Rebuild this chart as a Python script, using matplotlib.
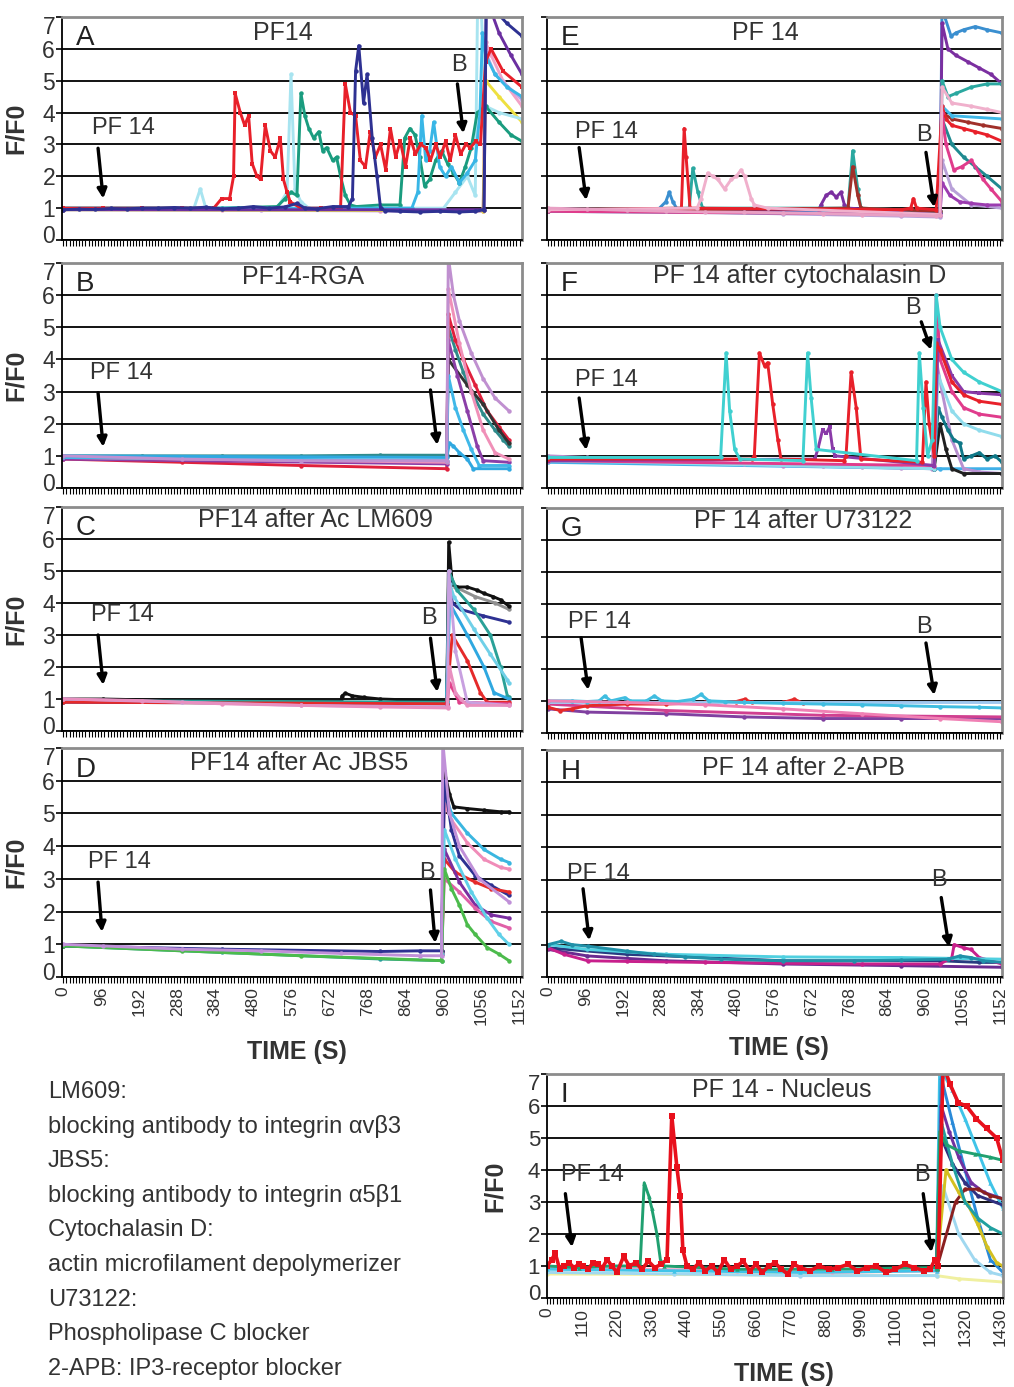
import matplotlib

matplotlib.use("Agg")
import matplotlib.pyplot as plt  # noqa: E402
import matplotlib.transforms as mtransforms  # noqa: E402
from matplotlib import font_manager  # noqa: E402
from matplotlib.ticker import MultipleLocator  # noqa: E402

plt.rcParams["font.family"] = ["Liberation Sans", "DejaVu Sans"]
_names = {f.name for f in font_manager.fontManager.ttflist}
NARROW = "Liberation Sans Narrow" if "Liberation Sans Narrow" in _names else "Liberation Sans"
TXT = "#333333"

# ---------------- data (time s, F/F0) ----------------
# Panel A: PF14
A_NAVY_T = [0, 40, 80, 120, 160, 200, 240, 280, 320, 360, 400, 440, 480, 520, 560, 590, 610, 640, 680, 720,
            730, 738, 746, 758, 767, 780, 792, 801, 812, 850, 900, 950, 1000, 1040, 1062, 1068, 1090, 1120, 1158]
A_NAVY_V = [0.95, 0.97, 0.96, 0.99, 0.98, 1.0, 1.0, 1.02, 1.0, 1.03, 0.98, 1.0, 1.05, 1.0, 1.04, 1.15, 1.0, 0.98,
            1.05, 1.05, 1.3, 5.3, 6.1, 4.3, 5.2, 3.2, 2.0, 1.0, 0.92, 0.9, 0.88, 0.9, 0.88, 0.9, 0.95, 7.8, 7.2,
            6.8, 6.4]
A_RED_T = [0, 100, 200, 300, 380, 400, 420, 430, 434, 447, 458, 468, 477, 489, 498, 510, 523, 535, 548, 556,
           565, 573, 600, 650, 700, 712, 725, 738, 750, 763, 775, 788, 801, 814, 826, 839, 851, 864, 876, 889,
           902, 915, 927, 940, 952, 965, 977, 990, 1003, 1016, 1028, 1041, 1053, 1066, 1080, 1110, 1158]
A_RED_V = [1.0, 1.0, 1.0, 1.0, 1.0, 1.3, 1.3, 2.0, 4.6, 4.0, 3.6, 3.9, 2.4, 2.0, 1.9, 3.6, 2.8, 2.6, 3.2, 1.9,
           1.5, 1.2, 1.0, 1.0, 1.0, 4.9, 4.0, 3.9, 2.5, 2.3, 3.4, 2.6, 3.0, 2.2, 3.5, 2.6, 3.1, 2.3, 3.2, 2.7,
           3.0, 2.9, 2.5, 3.0, 2.6, 3.1, 2.5, 3.3, 2.7, 3.0, 2.9, 3.1, 3.0, 5.6, 6.0, 5.3, 4.8]
A_TEAL_T = [0, 200, 400, 540, 560, 575, 590, 600, 610, 620, 632, 645, 655, 665, 680, 690, 700, 712, 725, 740,
            800, 850, 862, 875, 888, 900, 912, 925, 940, 955, 970, 985, 1000, 1015, 1030, 1045, 1066, 1100,
            1130, 1158]
A_TEAL_V = [1.0, 1.0, 1.0, 1.05, 1.3, 1.5, 1.4, 4.6, 3.9, 3.5, 3.2, 3.4, 2.8, 2.9, 2.5, 2.6, 2.0, 1.4, 1.1,
            1.05, 1.1, 1.1, 3.2, 3.5, 3.3, 2.6, 1.7, 1.9, 2.5, 2.8, 2.4, 2.1, 1.8, 2.3, 2.9, 4.0, 4.2, 3.7, 3.3,
            3.1]
A_SKY_T = [0, 880, 895, 905, 915, 925, 935, 950, 965, 980, 1000, 1020, 1040, 1052, 1058, 1066, 1090, 1120, 1158]
A_SKY_V = [1.0, 1.0, 1.5, 3.9, 2.5, 2.8, 3.7, 2.3, 2.0, 2.3, 1.8, 2.1, 2.5, 4.0, 6.5, 5.8, 5.2, 4.8, 4.5]
A_LCYAN_T = [0, 330, 346, 360, 540, 565, 575, 585, 600, 620, 960, 990, 1020, 1040, 1046, 1054, 1066, 1100, 1158]
A_LCYAN_V = [1.0, 1.0, 1.6, 1.0, 1.0, 1.5, 5.2, 1.6, 1.2, 1.0, 1.0, 1.5, 2.0, 1.4, 7.5, 7.5, 4.2, 4.0, 3.8]
A_PINK_T = [0, 400, 800, 1060, 1066, 1080, 1110, 1158]
A_PINK_V = [0.98, 0.95, 0.92, 0.9, 6.2, 5.8, 5.0, 4.2]
A_LAV_T = [0, 500, 1060, 1066, 1090, 1158]
A_LAV_V = [0.96, 0.93, 0.9, 5.9, 5.2, 4.4]
A_YEL_T = [0, 1060, 1066, 1100, 1158]
A_YEL_V = [0.95, 0.92, 5.0, 4.5, 3.7]
A_PURP_T = [0, 1062, 1068, 1100, 1130, 1158]
A_PURP_V = [0.95, 0.95, 7.6, 6.5, 5.8, 5.2]

# Panel B: PF14-RGA
B_TEAL_T = [0, 200, 400, 600, 800, 968, 972, 990, 1010, 1030, 1060, 1090, 1110, 1125]
B_TEAL_V = [1.0, 1.0, 1.0, 1.0, 1.02, 1.02, 5.0, 4.3, 3.6, 3.0, 2.3, 1.8, 1.5, 1.3]
B_RED_T = [0, 300, 600, 968, 972, 990, 1010, 1040, 1070, 1100, 1125]
B_RED_V = [0.9, 0.8, 0.7, 0.6, 5.4, 4.6, 4.0, 3.2, 2.4, 1.9, 1.5]
B_LAV_T = [0, 300, 600, 968, 972, 985, 1000, 1030, 1060, 1090, 1125]
B_LAV_V = [1.0, 0.9, 0.85, 0.85, 7.2, 6.0, 5.2, 4.2, 3.4, 2.8, 2.4]
B_PINK_T = [0, 968, 972, 1000, 1030, 1060, 1090, 1125]
B_PINK_V = [0.95, 0.8, 6.2, 4.5, 3.0, 1.8, 1.1, 0.9]
B_PURP_T = [0, 968, 972, 995, 1020, 1045, 1060, 1125]
B_PURP_V = [0.9, 0.75, 4.6, 3.5, 2.4, 1.3, 0.85, 0.8]
B_SKY_T = [0, 968, 972, 990, 1010, 1030, 1050, 1125]
B_SKY_V = [0.95, 0.85, 3.5, 2.5, 1.8, 1.2, 0.7, 0.7]
B_CYAN_T = [0, 968, 975, 985, 1000, 1020, 1035, 1125]
B_CYAN_V = [1.0, 0.95, 1.4, 1.3, 1.1, 0.9, 0.6, 0.6]
B_BLACK_T = [968, 972, 1020, 1060, 1100, 1125]
B_BLACK_V = [1.0, 4.0, 3.2, 2.6, 1.8, 1.4]

# Panel C: PF14 after Ac LM609
C_PINK_T = [0, 200, 400, 600, 800, 970, 975, 990, 1003, 1020, 1125]
C_PINK_V = [1.0, 0.95, 0.85, 0.8, 0.75, 0.72, 2.0, 1.2, 1.0, 0.8, 0.8]
C_LAV_T = [0, 300, 600, 970, 973, 990, 1020, 1125]
C_LAV_V = [1.0, 0.9, 0.8, 0.75, 5.0, 2.5, 0.9, 0.8]
C_BLACK_T = [0, 100, 300, 500, 700, 704, 712, 730, 760, 800, 850, 900, 950, 968, 973, 982, 995, 1020, 1045,
             1062, 1085, 1104, 1125]
C_BLACK_V = [1.0, 1.0, 0.95, 0.94, 0.93, 1.1, 1.18, 1.1, 1.05, 1.0, 0.98, 0.95, 0.93, 0.93, 5.9, 4.6, 4.5, 4.5,
             4.4, 4.3, 4.2, 4.1, 3.9]
C_GREY_T = [968, 973, 990, 1040, 1090, 1125]
C_GREY_V = [0.9, 5.0, 4.5, 4.2, 4.0, 3.8]
C_NAVY_T = [0, 968, 975, 982, 1003, 1060, 1125]
C_NAVY_V = [0.9, 0.85, 4.8, 4.0, 3.8, 3.6, 3.4]
C_TEAL_T = [0, 968, 973, 994, 1036, 1078, 1104, 1121, 1125]
C_TEAL_V = [0.95, 0.9, 5.0, 4.4, 3.8, 3.0, 2.0, 1.1, 1.05]
C_CYAN_T = [968, 976, 986, 1036, 1078, 1121, 1125]
C_CYAN_V = [0.9, 4.6, 4.2, 3.2, 2.4, 1.6, 1.5]
C_SKY_T = [968, 975, 1020, 1062, 1087, 1125]
C_SKY_V = [0.9, 4.0, 3.0, 2.0, 1.2, 1.0]
C_RED_T = [0, 968, 975, 982, 1020, 1053, 1070, 1125]
C_RED_V = [0.9, 0.85, 2.0, 3.0, 2.2, 1.2, 0.9, 0.9]
C_MAG_T = [968, 975, 1000, 1125]
C_MAG_V = [0.8, 1.5, 0.9, 0.85]

# Panel D: PF14 after Ac JBS5
D_LAV_T = [0, 100, 300, 500, 700, 900, 955, 958, 975, 1000, 1050, 1125]
D_LAV_V = [1.0, 0.95, 0.85, 0.8, 0.72, 0.65, 0.65, 7.2, 5.0, 4.0, 3.0, 2.3]
D_GREEN_T = [0, 300, 600, 955, 962, 980, 1000, 1020, 1040, 1070, 1100, 1125]
D_GREEN_V = [0.95, 0.8, 0.65, 0.5, 3.3, 2.7, 2.2, 1.6, 1.3, 0.9, 0.7, 0.5]
D_TEAL_T = [0, 400, 800, 955]
D_TEAL_V = [0.95, 0.75, 0.55, 0.5]
D_NAVY_T = [0, 400, 800, 900, 955, 962, 980, 1000, 1040, 1080, 1125]
D_NAVY_V = [0.95, 0.85, 0.78, 0.8, 0.8, 6.0, 4.5, 3.7, 3.1, 2.8, 2.5]
D_BLACK_T = [955, 962, 975, 986, 1020, 1062, 1104, 1125]
D_BLACK_V = [0.8, 6.3, 5.6, 5.2, 5.15, 5.1, 5.05, 5.05]
D_SKY_T = [955, 962, 980, 1020, 1062, 1104, 1125]
D_SKY_V = [0.7, 5.7, 5.0, 4.4, 3.9, 3.6, 3.5]
D_PINK_T = [955, 962, 980, 1020, 1062, 1104, 1125]
D_PINK_V = [0.7, 5.3, 4.8, 4.1, 3.6, 3.35, 3.3]
D_RED_T = [955, 962, 990, 1040, 1080, 1125]
D_RED_V = [0.7, 3.6, 3.2, 2.9, 2.7, 2.6]
D_PURP_T = [955, 962, 1000, 1040, 1080, 1125]
D_PURP_V = [0.7, 3.9, 2.9, 2.2, 1.9, 1.8]
D_MAG_T = [955, 962, 1000, 1040, 1080, 1125]
D_MAG_V = [0.7, 3.0, 2.6, 2.1, 1.7, 1.5]
D_CYAN_T = [955, 962, 990, 1030, 1070, 1100, 1125]
D_CYAN_V = [0.7, 4.5, 3.6, 2.6, 1.8, 1.3, 1.0]

# Panel E: PF 14
E_PINK_T = [0, 100, 200, 300, 400, 500, 600, 700, 800, 900, 990, 1000]
E_PINK_V = [1.0, 0.97, 0.93, 0.9, 0.88, 0.87, 0.85, 0.83, 0.8, 0.78, 0.75, 0.8]
E_LAV_T = [0, 300, 600, 900, 1000, 1005, 1030, 1080, 1158]
E_LAV_V = [0.98, 0.9, 0.82, 0.75, 0.72, 2.5, 1.6, 1.1, 1.0]
E_BLUE_T = [0, 280, 300, 309, 318, 330, 1000, 1005, 1012, 1028, 1040, 1060, 1090, 1120, 1158]
E_BLUE_V = [0.95, 0.95, 1.2, 1.5, 1.2, 0.95, 0.85, 7.5, 7.0, 6.4, 6.5, 6.6, 6.7, 6.6, 6.5]
E_RED_T = [0, 340, 347, 352, 362, 900, 925, 932, 940, 990, 1005, 1015, 1030, 1060, 1090, 1120, 1158]
E_RED_V = [0.95, 1.0, 3.5, 2.6, 1.0, 0.95, 1.0, 1.3, 1.0, 0.95, 4.2, 3.8, 3.6, 3.5, 3.4, 3.3, 3.1]
E_TEAL_T = [0, 360, 369, 382, 394, 765, 777, 790, 798, 1000, 1005, 1020, 1040, 1080, 1120, 1158]
E_TEAL_V = [0.95, 1.0, 2.25, 1.5, 1.0, 1.0, 2.8, 1.6, 1.0, 0.9, 5.0, 4.5, 4.6, 4.8, 4.9, 4.9]
E_LPINK_T = [0, 380, 390, 407, 420, 433, 450, 467, 480, 492, 501, 518, 526, 560, 1000, 1005, 1030, 1080, 1120,
             1158]
E_LPINK_V = [0.95, 1.0, 1.3, 2.1, 2.0, 1.9, 1.6, 1.9, 2.0, 2.2, 2.0, 1.3, 1.1, 1.0, 0.8, 4.8, 4.3, 4.2, 4.1,
             4.0]
E_PURP_T = [0, 690, 696, 709, 722, 735, 747, 756, 765, 1000, 1005, 1020, 1040, 1070, 1100, 1130, 1158]
E_PURP_V = [0.9, 0.95, 1.1, 1.4, 1.5, 1.35, 1.5, 1.1, 1.0, 0.85, 6.8, 6.0, 5.8, 5.6, 5.4, 5.2, 4.9]
E_BROWN_T = [0, 765, 777, 790, 798, 1000, 1005, 1030, 1070, 1110, 1158]
E_BROWN_V = [0.9, 1.0, 2.3, 1.4, 1.0, 0.9, 4.0, 3.8, 3.7, 3.6, 3.5]
E_SKY_T = [0, 1000, 1005, 1030, 1158]
E_SKY_V = [0.9, 0.8, 4.2, 3.9, 3.8]
E_MAG_T = [0, 1000, 1005, 1015, 1035, 1055, 1080, 1110, 1130, 1158]
E_MAG_V = [0.9, 0.8, 4.0, 3.0, 2.2, 2.3, 2.5, 1.9, 1.6, 1.2]
E_DTEAL_T = [1000, 1005, 1030, 1060, 1090, 1120, 1158]
E_DTEAL_V = [0.8, 3.8, 3.0, 2.6, 2.3, 2.0, 1.6]
E_VIOL_T = [1000, 1005, 1025, 1050, 1080, 1120, 1158]
E_VIOL_V = [0.8, 1.8, 1.4, 1.2, 1.15, 1.1, 1.1]

# Panel F: PF 14 after cytochalasin D
F_LAV_T = [0, 100, 200, 300, 400, 500, 600, 700, 800, 900, 980, 990, 1005, 1030, 1060, 1100, 1158]
F_LAV_V = [1.0, 0.95, 0.9, 0.85, 0.8, 0.75, 0.7, 0.68, 0.65, 0.62, 0.6, 4.0, 3.0, 1.5, 0.6, 0.5, 0.45]
F_TURQ_T = [0, 440, 454, 463, 476, 489, 650, 662, 671, 684, 940, 947, 957, 968, 980, 990, 1000, 1030, 1060,
            1100, 1158]
F_TURQ_V = [0.95, 0.95, 4.2, 2.4, 1.2, 0.9, 0.85, 4.2, 2.8, 1.2, 0.85, 4.2, 2.5, 1.0, 1.5, 6.0, 5.0, 4.0, 3.6,
            3.3, 3.0]
F_RED_T = [0, 520, 526, 539, 552, 560, 573, 586, 594, 755, 760, 773, 786, 798, 955, 964, 972, 985, 990, 1000,
           1030, 1060, 1100, 1158]
F_RED_V = [0.9, 0.9, 1.0, 4.2, 3.8, 3.9, 2.6, 1.5, 0.9, 0.85, 1.0, 3.6, 2.5, 0.9, 0.8, 3.3, 2.0, 1.0, 4.5, 4.3,
           3.3, 2.9, 2.7, 2.6]
F_PURP_T = [0, 680, 688, 700, 710, 718, 726, 732, 985, 995, 1030, 1060, 1100, 1158]
F_PURP_V = [0.85, 0.9, 1.2, 1.8, 1.7, 1.9, 1.2, 1.0, 0.7, 4.6, 3.5, 3.0, 2.95, 2.9]
F_MAG_T = [0, 985, 990, 1000, 1030, 1060, 1100, 1158]
F_MAG_V = [0.85, 0.7, 6.0, 4.0, 3.0, 2.5, 2.3, 2.2]
F_LCYAN_T = [0, 985, 995, 1030, 1060, 1100, 1158]
F_LCYAN_V = [0.85, 0.6, 3.5, 2.4, 2.0, 1.8, 1.6]
F_DTEAL_T = [985, 995, 1005, 1020, 1035, 1050, 1060, 1080, 1100, 1120, 1140, 1158]
F_DTEAL_V = [0.6, 2.5, 2.2, 1.8, 1.5, 1.4, 0.9, 1.0, 1.1, 0.9, 1.0, 0.8]
F_BLACK_T = [985, 1000, 1015, 1030, 1060, 1158]
F_BLACK_V = [0.6, 2.0, 1.2, 0.6, 0.45, 0.45]
F_SKY_T = [0, 985, 1000, 1158]
F_SKY_V = [0.8, 0.6, 0.6, 0.6]

# Panel G: PF 14 after U73122
G_SKY_T = [0, 60, 100, 130, 144, 160, 195, 210, 250, 271, 290, 330, 370, 390, 410, 450, 500, 600, 700, 800,
           900, 1000, 1100, 1158]
G_SKY_V = [1.0, 1.0, 0.98, 1.0, 1.15, 1.0, 1.1, 1.0, 1.0, 1.15, 1.0, 0.98, 1.05, 1.2, 1.0, 0.98, 0.95, 0.92,
           0.9, 0.88, 0.85, 0.82, 0.8, 0.78]
G_LBLUE_T = [0, 500, 1158]
G_LBLUE_V = [0.95, 0.95, 0.95]
G_PINK_T = [0, 200, 400, 600, 800, 1000, 1158]
G_PINK_V = [1.0, 0.95, 0.88, 0.75, 0.6, 0.45, 0.35]
G_PURP_T = [0, 100, 300, 500, 700, 900, 1158]
G_PURP_V = [0.75, 0.65, 0.6, 0.5, 0.45, 0.45, 0.45]
G_RED_T = [0, 30, 60, 100, 200, 300, 400, 480, 501, 520, 600, 628, 650, 700]
G_RED_V = [0.8, 0.7, 0.75, 0.85, 0.9, 0.9, 0.95, 0.98, 1.05, 0.95, 0.95, 1.05, 0.93, 0.92]
G_MAG_T = [0, 300, 700, 1158]
G_MAG_V = [0.9, 0.7, 0.55, 0.5]

# Panel H: PF 14 after 2-APB
H_TEAL_T = [0, 33, 60, 101, 200, 271, 350, 441, 600, 781, 900, 1020, 1050, 1079, 1110, 1158]
H_TEAL_V = [1.0, 1.1, 1.0, 0.95, 0.8, 0.7, 0.62, 0.55, 0.5, 0.5, 0.52, 0.55, 0.65, 0.6, 0.5, 0.45]
H_MAG_T = [0, 40, 101, 200, 400, 800, 1000, 1030, 1036, 1060, 1079, 1100, 1158]
H_MAG_V = [0.9, 0.7, 0.5, 0.48, 0.45, 0.4, 0.4, 0.6, 1.0, 0.9, 0.85, 0.6, 0.4]
H_PURP_T = [0, 100, 300, 600, 900, 1158]
H_PURP_V = [0.85, 0.65, 0.5, 0.4, 0.35, 0.3]
H_CYAN_T = [0, 100, 300, 600, 900, 1158]
H_CYAN_V = [1.0, 0.85, 0.7, 0.62, 0.6, 0.55]
H_NAVY_T = [0, 200, 600, 1000, 1100, 1158]
H_NAVY_V = [0.9, 0.7, 0.5, 0.5, 0.45, 0.45]

# Panel I: PF 14 - Nucleus
I_RED_T = [0, 15, 26, 40, 55, 70, 85, 100, 115, 130, 145, 160, 175, 190, 205, 221, 242, 260, 280, 300, 320,
           340, 360, 379, 394, 410, 421, 429, 442, 460, 480, 500, 520, 540, 560, 580, 600, 620, 640, 660, 680,
           700, 720, 740, 760, 780, 800, 830, 860, 890, 920, 950, 980, 1010, 1040, 1070, 1100, 1130, 1160,
           1190, 1210, 1225, 1235, 1251, 1272, 1299, 1325, 1356, 1388, 1420, 1440]
I_RED_V = [1.0, 1.2, 1.4, 0.9, 1.0, 1.1, 0.95, 1.05, 1.0, 0.9, 1.1, 1.05, 0.95, 1.2, 1.0, 0.8, 1.3, 1.0, 1.1,
           0.9, 1.15, 0.95, 1.05, 1.2, 5.7, 4.1, 3.2, 1.5, 1.0, 0.9, 1.1, 0.85, 1.0, 0.8, 1.2, 0.9, 1.0, 1.15,
           0.85, 1.05, 0.8, 1.0, 1.1, 0.9, 0.75, 1.05, 0.95, 0.85, 1.0, 0.9, 0.95, 1.05, 0.85, 0.95, 1.0, 0.8,
           0.9, 1.05, 0.95, 0.85, 0.9, 1.2, 1.0, 7.3, 6.7, 6.1, 6.0, 5.6, 5.3, 5.0, 4.3]
I_GREEN_T = [0, 100, 200, 294, 307, 321, 331, 347, 358, 370, 600, 900, 1230, 1240, 1260, 1300, 1350, 1400, 1440]
I_GREEN_V = [1.0, 0.95, 1.0, 1.0, 3.6, 3.2, 2.8, 2.0, 1.2, 1.0, 0.9, 0.9, 0.95, 5.2, 4.8, 4.6, 4.5, 4.4, 4.3]
I_CYAN_T = [0, 400, 800, 1230, 1240, 1280, 1320, 1360, 1400, 1440]
I_CYAN_V = [0.9, 0.85, 0.8, 0.85, 7.2, 6.5, 5.6, 4.6, 3.6, 2.8]
I_SKY_T = [1230, 1245, 1280, 1320, 1360, 1400, 1440]
I_SKY_V = [0.9, 6.9, 5.5, 4.0, 2.5, 1.2, 0.8]
I_PURP_T = [1230, 1245, 1270, 1300, 1340, 1380, 1440]
I_PURP_V = [0.9, 6.0, 5.2, 4.4, 3.6, 3.3, 3.1]
I_NAVY_T = [1230, 1245, 1280, 1320, 1360, 1440]
I_NAVY_V = [0.9, 5.0, 4.2, 3.6, 3.2, 2.9]
I_BROWN_T = [1230, 1290, 1320, 1360, 1400, 1440]
I_BROWN_V = [0.9, 3.0, 3.4, 3.4, 3.2, 3.1]
I_YEL_T = [1230, 1260, 1300, 1330, 1360, 1390, 1420, 1440]
I_YEL_V = [0.9, 4.0, 3.3, 2.9, 2.3, 1.6, 1.1, 1.0]
I_TEAL_T = [1230, 1245, 1280, 1320, 1360, 1400, 1440]
I_TEAL_V = [0.9, 5.5, 4.2, 3.0, 2.5, 2.2, 2.0]
I_LBLUE_T = [0, 400, 800, 1230, 1250, 1300, 1350, 1400, 1440]
I_LBLUE_V = [0.8, 0.75, 0.7, 0.7, 3.5, 2.0, 1.2, 0.8, 0.7]
I_LYEL_T = [0, 1230, 1300, 1440]
I_LYEL_V = [0.75, 0.7, 0.6, 0.5]
I_PINK_T = [0, 300, 600, 900, 1230]
I_PINK_V = [0.95, 0.9, 0.85, 0.8, 0.85]

LEFT_TICKS = [0, 96, 192, 288, 384, 480, 576, 672, 768, 864, 960, 1056, 1152]
I_TICKS = [0, 110, 220, 330, 440, 550, 660, 770, 880, 990, 1100, 1210, 1320, 1430]

NOTES = ["LM609:", "blocking antibody to integrin \u03b1v\u03b23", "JBS5:",
         "blocking antibody to integrin \u03b15\u03b21", "Cytochalasin D:",
         "actin microfilament depolymerizer", "U73122:", "Phospholipase C blocker",
         "2-APB: IP3-receptor blocker"]

# colour, t, v, marker
PANELS = {
    "A": [("#f2a2c6", A_PINK_T, A_PINK_V, "o"), ("#c4a4e4", A_LAV_T, A_LAV_V, "o"),
          ("#eee040", A_YEL_T, A_YEL_V, "o"), ("#a8e4f0", A_LCYAN_T, A_LCYAN_V, "o"),
          ("#1a9c7f", A_TEAL_T, A_TEAL_V, "o"), ("#39b6e6", A_SKY_T, A_SKY_V, "o"),
          ("#e8202a", A_RED_T, A_RED_V, "s"), ("#6b2fa0", A_PURP_T, A_PURP_V, "o"),
          ("#2e3192", A_NAVY_T, A_NAVY_V, "o")],
    "B": [("#2e8b8b", B_TEAL_T, B_TEAL_V, "o"), ("#e0203c", B_RED_T, B_RED_V, "o"),
          ("#333333", B_BLACK_T, B_BLACK_V, "o"), ("#8b3fa8", B_PURP_T, B_PURP_V, "o"),
          ("#f090b8", B_PINK_T, B_PINK_V, "o"), ("#40b8e8", B_SKY_T, B_SKY_V, "o"),
          ("#30a8e0", B_CYAN_T, B_CYAN_V, "o"), ("#c090d0", B_LAV_T, B_LAV_V, "o")],
    "C": [("#909090", C_GREY_T, C_GREY_V, "o"), ("#111111", C_BLACK_T, C_BLACK_V, "o"),
          ("#2e3192", C_NAVY_T, C_NAVY_V, "o"), ("#2aa198", C_TEAL_T, C_TEAL_V, "o"),
          ("#70d0e8", C_CYAN_T, C_CYAN_V, "o"), ("#2fa8e0", C_SKY_T, C_SKY_V, "o"),
          ("#e52a2a", C_RED_T, C_RED_V, "o"), ("#e0408a", C_MAG_T, C_MAG_V, "o"),
          ("#c8a0e0", C_LAV_T, C_LAV_V, "o"), ("#e890c0", C_PINK_T, C_PINK_V, "o")],
    "D": [("#2aa198", D_TEAL_T, D_TEAL_V, "o"), ("#111111", D_BLACK_T, D_BLACK_V, "o"),
          ("#3ab6e0", D_SKY_T, D_SKY_V, "o"), ("#f08cb8", D_PINK_T, D_PINK_V, "o"),
          ("#2e3192", D_NAVY_T, D_NAVY_V, "o"), ("#e52a2a", D_RED_T, D_RED_V, "o"),
          ("#7a2ea0", D_PURP_T, D_PURP_V, "o"), ("#e060a8", D_MAG_T, D_MAG_V, "o"),
          ("#60d0e8", D_CYAN_T, D_CYAN_V, "o"), ("#4cbb4c", D_GREEN_T, D_GREEN_V, "o"),
          ("#c090d8", D_LAV_T, D_LAV_V, "o")],
    "E": [("#b8a0d8", E_LAV_T, E_LAV_V, "o"), ("#3a8fd0", E_BLUE_T, E_BLUE_V, "o"),
          ("#7b2fa0", E_PURP_T, E_PURP_V, "o"), ("#2aa8a0", E_TEAL_T, E_TEAL_V, "o"),
          ("#a0302a", E_BROWN_T, E_BROWN_V, "o"), ("#40b8e8", E_SKY_T, E_SKY_V, "o"),
          ("#e8202a", E_RED_T, E_RED_V, "o"), ("#1f8a90", E_DTEAL_T, E_DTEAL_V, "o"),
          ("#e03c8c", E_MAG_T, E_MAG_V, "o"), ("#9c3cb0", E_VIOL_T, E_VIOL_V, "o"),
          ("#f0b0cc", E_LPINK_T, E_LPINK_V, "o"), ("#e8a0c4", E_PINK_T, E_PINK_V, "o")],
    "F": [("#40b0e8", F_SKY_T, F_SKY_V, "o"), ("#b890d0", F_LAV_T, F_LAV_V, "o"),
          ("#202020", F_BLACK_T, F_BLACK_V, "o"), ("#107888", F_DTEAL_T, F_DTEAL_V, "o"),
          ("#90dcec", F_LCYAN_T, F_LCYAN_V, "o"), ("#e03c8c", F_MAG_T, F_MAG_V, "o"),
          ("#8a3aa8", F_PURP_T, F_PURP_V, "s"), ("#e8202a", F_RED_T, F_RED_V, "o"),
          ("#40d0d0", F_TURQ_T, F_TURQ_V, "o")],
    "G": [("#8040a0", G_PURP_T, G_PURP_V, "o"), ("#d04090", G_MAG_T, G_MAG_V, "o"),
          ("#e52a2a", G_RED_T, G_RED_V, "o"), ("#a0c8f0", G_LBLUE_T, G_LBLUE_V, "o"),
          ("#40bde0", G_SKY_T, G_SKY_V, "o"), ("#f080b4", G_PINK_T, G_PINK_V, "o")],
    "H": [("#6a2a90", H_PURP_T, H_PURP_V, "o"), ("#283c80", H_NAVY_T, H_NAVY_V, "o"),
          ("#c8208c", H_MAG_T, H_MAG_V, "o"), ("#50d0e0", H_CYAN_T, H_CYAN_V, "o"),
          ("#2090a8", H_TEAL_T, H_TEAL_V, "o")],
    "I": [("#f0f0a0", I_LYEL_T, I_LYEL_V, "o"), ("#a0d8f0", I_LBLUE_T, I_LBLUE_V, "o"),
          ("#f0a0c8", I_PINK_T, I_PINK_V, "o"), ("#40c4e8", I_CYAN_T, I_CYAN_V, "^"),
          ("#2a8ad8", I_SKY_T, I_SKY_V, "^"), ("#7030a0", I_PURP_T, I_PURP_V, "o"),
          ("#303080", I_NAVY_T, I_NAVY_V, "o"), ("#8b2020", I_BROWN_T, I_BROWN_V, "o"),
          ("#d4c020", I_YEL_T, I_YEL_V, "o"), ("#20a0a0", I_TEAL_T, I_TEAL_V, "^"),
          ("#20a070", I_GREEN_T, I_GREEN_V, "^"), ("#e8101c", I_RED_T, I_RED_V, "s")],
}

TITLES = {"A": "PF14", "B": "PF14-RGA", "C": "PF14 after Ac LM609", "D": "PF14 after Ac JBS5",
          "E": "PF 14", "F": "PF 14 after cytochalasin D", "G": "PF 14 after U73122",
          "H": "PF 14 after 2-APB", "I": "PF 14 - Nucleus"}

# axes boxes in pixels: left, top, right, bottom
W, H = 1014, 1387
BOXES = {"A": (62, 17, 522, 240), "B": (62, 263, 522, 488), "C": (62, 507, 522, 731),
         "D": (62, 748, 522, 977), "E": (547, 17, 1002, 240), "F": (547, 263, 1002, 488),
         "G": (547, 508, 1002, 733), "H": (547, 750, 1002, 977), "I": (547, 1074, 1003, 1298)}
# title x, title y (axes fraction)
TITLE_POS = {"A": (0.48, 0.93), "B": (0.525, 0.94), "C": (0.55, 0.94), "D": (0.516, 0.935),
             "E": (0.48, 0.93), "F": (0.556, 0.94), "G": (0.563, 0.94), "H": (0.563, 0.92),
             "I": (0.515, 0.93)}
# PF 14 text (t, v), arrow tail, arrow head ; B text, tail, head
ARROWS = {
    "A": ((151, 3.5), (88, 2.88), (101, 1.3), (998, 5.5), (995, 4.9), (1010, 3.35)),
    "B": ((146, 3.58), (88, 2.96), (101, 1.28), (919, 3.58), (927, 3.05), (944, 1.34)),
    "C": ((149, 3.62), (88, 3.0), (101, 1.44), (922, 3.53), (927, 2.9), (944, 1.22)),
    "D": ((141, 3.5), (88, 2.9), (98, 1.38), (919, 3.18), (927, 2.66), (939, 1.04)),
    "E": ((148, 3.4), (79, 2.9), (97, 1.25), (959, 3.3), (964, 2.75), (985, 1.03)),
    "F": ((148, 3.36), (79, 2.8), (97, 1.18), (931, 5.6), (952, 5.17), (977, 4.3)),
    "G": ((130, 3.46), (84, 2.96), (102, 1.34), (959, 3.3), (964, 2.8), (985, 1.18)),
    "H": ((128, 3.18), (89, 2.72), (105, 1.13), (997, 3.0), (1003, 2.45), (1023, 0.92)),
    "I": ((142, 3.83), (58, 3.26), (79, 1.59), (1183, 3.83), (1188, 3.26), (1214, 1.43)),
}
XLABEL_Y = {"D": -0.275, "H": -0.26, "I": -0.285}

fig = plt.figure(figsize=(W / 100, H / 100), dpi=100)
NUDGE_DOWN = mtransforms.ScaledTranslation(0, -6 / 72, fig.dpi_scale_trans)
NUDGE_UP = mtransforms.ScaledTranslation(0, 4 / 72, fig.dpi_scale_trans)

for key, traces in PANELS.items():
    l, t, r, b = BOXES[key]
    ax = fig.add_axes([l / W, 1 - b / H, (r - l) / W, (b - t) / H])
    for color, tt, vv, mk in traces:
        big = key == "I" and mk == "s"
        ax.plot(tt, vv, color=color, lw=2.6 if big else 2.1, marker=mk,
                ms=5 if big else 3.2, mew=0, solid_joinstyle="round")
    is_i = key == "I"
    ax.set_xlim(0, 1440) if is_i else ax.set_xlim(-3, 1158)
    ax.set_ylim(0, 7)
    ax.set_yticks(range(8))
    ax.grid(axis="y", color="black", lw=1.3)
    ax.set_axisbelow(True)
    for s in ("top", "right"):
        ax.spines[s].set_color("#8c8c8c")
        ax.spines[s].set_linewidth(2.0)
    ax.spines["left"].set_linewidth(1.3)
    ax.spines["bottom"].set_linewidth(1.3)
    ax.xaxis.set_minor_locator(MultipleLocator(10 if is_i else 8))
    ax.tick_params(axis="x", which="minor", direction="out", length=4, width=0.8)
    ax.tick_params(axis="y", direction="out", length=4, width=1.2, pad=1)
    if key in ("A", "B", "C", "D", "I"):
        labels = ax.set_yticklabels([str(i) for i in range(8)], fontfamily=NARROW,
                                    fontsize=16 if is_i else 16.5, color=TXT)
        # keep stacked panels' end labels (0 above, 7 below) apart
        labels[-1].set_transform(labels[-1].get_transform() + NUDGE_DOWN)
        labels[0].set_transform(labels[0].get_transform() + NUDGE_UP)
        ax.set_ylabel("F/F0", fontsize=18, fontweight="bold", color=TXT)
        ax.yaxis.set_label_coords(-0.088 if is_i else -0.074, 0.5)
    else:
        ax.set_yticklabels([])
    if key in ("D", "H", "I"):
        ticks = I_TICKS if is_i else LEFT_TICKS
        ax.set_xticks(ticks)
        ax.set_xticklabels([str(x) for x in ticks], rotation=90, fontsize=12.5, color=TXT)
        ax.tick_params(axis="x", which="major", direction="out", length=4, pad=3)
        ax.set_xlabel("TIME (S)", fontsize=18, fontweight="bold", color=TXT)
        ax.xaxis.set_label_coords(0.52 if is_i else 0.51, XLABEL_Y[key])
    else:
        ax.set_xticks([])
    tx, ty = TITLE_POS[key]
    ax.text(tx, ty, TITLES[key], transform=ax.transAxes, ha="center", va="center",
            fontsize=18, color=TXT)
    ax.text(0.03, 0.905, key, transform=ax.transAxes, ha="left", va="center",
            fontsize=20, color="#222222")
    pf, pt0, pt1, bt, bt0, bt1 = ARROWS[key]
    for label, pos, tail, head in (("PF 14", pf, pt0, pt1), ("B", bt, bt0, bt1)):
        ax.text(pos[0], pos[1], label, ha="center", va="center", fontsize=17, color=TXT)
        ax.annotate("", xy=head, xytext=tail,
                    arrowprops=dict(arrowstyle="-|>", color="black", lw=2.4, mutation_scale=14,
                                    shrinkA=0, shrinkB=0))

for i, line in enumerate(NOTES):
    fig.text(48 / W, 1 - (1092 + i * 34.6) / H, line, fontsize=17, va="center", color=TXT)

fig.savefig("out.png", dpi=100)
